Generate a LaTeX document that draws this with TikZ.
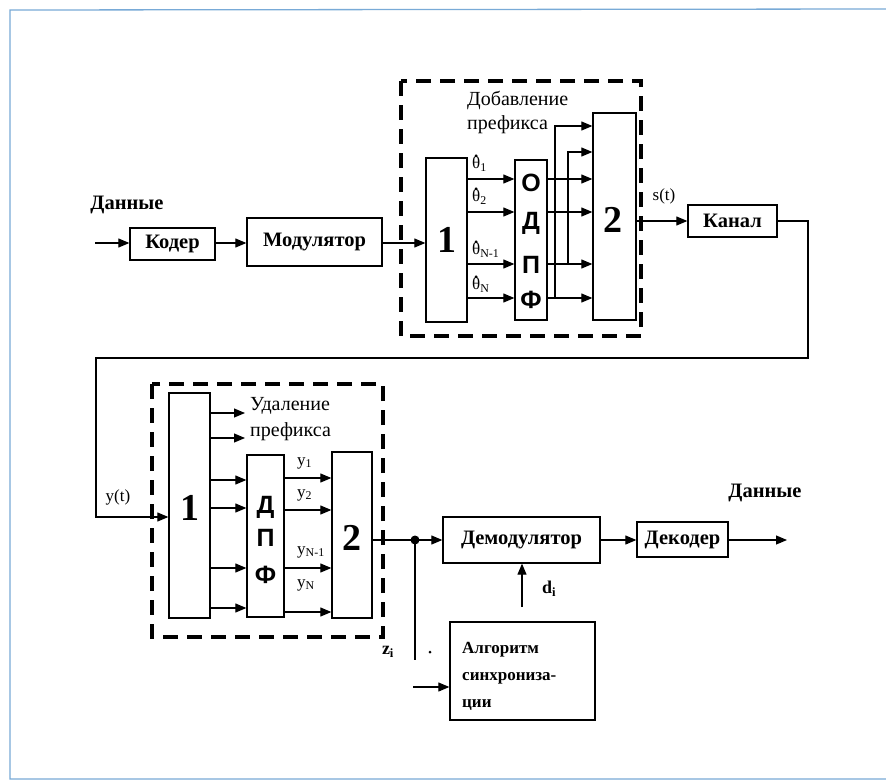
\documentclass[tikz,border=0pt]{standalone}
\usepackage{fontspec}
\setmainfont{Liberation Serif}
\newfontfamily\sansb{Liberation Sans}
\usetikzlibrary{arrows.meta,calc}
\newcommand{\dth}[1]{\ooalign{θ\cr\hidewidth\raisebox{0.66em}{\textbf{.}}\hidewidth\cr}\textsubscript{#1}}
\definecolor{framec}{RGB}{120,170,215}
\begin{document}
\begin{tikzpicture}[x=1pt,y=-1pt,
  box/.style={draw,line width=1.3pt,inner sep=0pt},
  ln/.style={line width=1.1pt},
  arr/.style={line width=1.1pt,-{Triangle[length=11pt,width=9pt]}},
  dashbox/.style={line width=3.5pt,dash pattern=on 15pt off 9pt},
  lbl/.style={font=\fontsize{20.5}{22}\selectfont\bfseries,inner sep=0pt},
  big/.style={font=\fontsize{38}{40}\selectfont\bfseries,inner sep=0pt},
  letter/.style={font=\sansb\fontsize{25}{27}\selectfont\bfseries,inner sep=0pt},
  txt/.style={font=\fontsize{20}{22}\selectfont,inner sep=0pt},
  sm/.style={font=\fontsize{17}{19}\selectfont,inner sep=0pt},
  smb/.style={font=\fontsize{18}{20}\selectfont\bfseries,inner sep=0pt},
  syn/.style={font=\fontsize{17}{19}\selectfont\bfseries,inner sep=0pt,anchor=west}]
\useasboundingbox (0,0) rectangle (886,782);
\fill[white] (0,0) rectangle (886,782);
\draw[framec,line width=1.3pt] (886,9) -- (10,10) -- (10,779) -- (886,779);

% ---- upper row boxes
\node[box,minimum width=85pt,minimum height=32pt,lbl] (koder) at (172.5,244) {Кодер};
\node[box,minimum width=135pt,minimum height=48pt,lbl] (mod) at (314.5,242) {Модулятор};
\node[box,minimum width=41pt,minimum height=164pt] (b1u) at (446.5,240) {};
\node[big] (b1ut) at (447,240) {1};
\node[box,minimum width=32pt,minimum height=160pt] (odpf) at (531,240) {};
\node[letter] (o1) at (531,183) {О};
\node[letter] (o2) at (531,223) {Д};
\node[letter] (o3) at (531,265) {П};
\node[letter] (o4) at (531,300) {Ф};
\node[box,minimum width=43pt,minimum height=207pt] (b2u) at (614.5,216.5) {};
\node[big] (b2ut) at (613,220) {2};
\node[box,minimum width=89pt,minimum height=32pt,lbl] (kanal) at (732.5,221) {Канал};
\draw[dashbox] (401,81) rectangle (641,336);

\node[lbl,anchor=center] (data1) at (127,205) {Данные};
\node[txt,anchor=west] (dob1) at (467,100) {Добавление};
\node[txt,anchor=west] (dob2) at (467,125) {префикса};
\node[sm,anchor=west] (th1) at (472,164) {\dth{1}};
\node[sm,anchor=west] (th2) at (472,197) {\dth{2}};
\node[sm,anchor=west] (th3) at (472,250) {\dth{N-1}};
\node[sm,anchor=west] (th4) at (472,285) {\dth{N}};
\node[sm] (st) at (664,196) {s(t)};

% ---- lower boxes
\node[box,minimum width=41pt,minimum height=225pt] (b1l) at (189.5,505.5) {};
\node[big] (b1lt) at (190,508) {1};
\node[box,minimum width=37pt,minimum height=162pt] (dpf) at (265.5,536) {};
\node[letter] (d1) at (265.5,507) {Д};
\node[letter] (d2) at (265.5,538) {П};
\node[letter] (d3) at (265.5,575) {Ф};
\node[box,minimum width=40pt,minimum height=166pt] (b2l) at (352,535) {};
\node[big] (b2lt) at (352,538) {2};
\draw[dashbox] (152,384) rectangle (383,637);
\node[box,minimum width=157pt,minimum height=46pt,lbl] (demod) at (521.5,540) {Демодулятор};
\node[box,minimum width=91pt,minimum height=35pt,lbl] (dekod) at (682.5,539.5) {Декодер};
\node[box,minimum width=145pt,minimum height=98pt] (sync) at (522.5,671) {};
\node[syn] (sy1) at (462,650) {Алгоритм};
\node[syn] (sy2) at (462,678) {синхрониза-};
\node[syn] (sy3) at (462,705) {ции};

\node[txt,anchor=west] (ud1) at (250,406) {Удаление};
\node[txt,anchor=west] (ud2) at (250,432) {префикса};
\node[sm] (yt) at (118,497) {y(t)};
\node[sm,anchor=west] (y1) at (297,463) {y\textsubscript{1}};
\node[sm,anchor=west] (y2) at (297,495) {y\textsubscript{2}};
\node[sm,anchor=west] (y3) at (297,552) {y\textsubscript{N-1}};
\node[sm,anchor=west] (y4) at (297,585) {y\textsubscript{N}};
\node[lbl] (data2) at (765,493) {Данные};
\node[smb] (dl) at (549,589) {d\textsubscript{i}};
\node[smb] (zl) at (388,652) {z\textsubscript{i}};

% ---- upper connectors
\coordinate (din) at (95,243);
\draw[arr] (din) -- (koder.west |- din);
\draw[arr] (koder.east |- din) -- (mod.west |- din);
\draw[arr] (mod.east |- din) -- (b1u.west |- din);
\foreach \yy in {179,212,264,298}{
  \coordinate (r\yy) at (0,\yy);
  \draw[arr] (b1u.east |- r\yy) -- (odpf.west |- r\yy);
  \draw[arr] (odpf.east |- r\yy) -- (b2u.west |- r\yy);
}
\coordinate (vN) at (555,298);
\coordinate (vNt) at (555,126);
\coordinate (vM) at (568,264);
\coordinate (vMt) at (568,152);
\draw[arr] (vN) -- (vNt) -- (b2u.west |- vNt);
\draw[arr] (vM) -- (vMt) -- (b2u.west |- vMt);
\draw[arr] (b2u.east |- kanal.west) -- (kanal.west);
\coordinate (k1) at (808,358);
\coordinate (k2) at (96,358);
\coordinate (k3) at (96,517);
\draw[arr] (kanal.east) -| (k1) -- (k2) -- (k3) -- (b1l.west |- k3);

% ---- lower connectors
\coordinate (p1) at (245,413);
\coordinate (p2) at (245,438);
\draw[arr] (b1l.east |- p1) -- (p1);
\draw[arr] (b1l.east |- p2) -- (p2);
\foreach \yy in {480,508,568,608}{
  \coordinate (q\yy) at (0,\yy);
  \draw[arr] (b1l.east |- q\yy) -- (dpf.west |- q\yy);
}
\foreach \yy in {478,510,568,612}{
  \coordinate (u\yy) at (0,\yy);
  \draw[arr] (dpf.east |- u\yy) -- (b2l.west |- u\yy);
}
\coordinate (jn) at (415,540);
\draw[ln] (b2l.east |- jn) -- (jn);
\draw[arr] (jn) -- (demod.west |- jn);
\fill (jn) circle (4.5pt);
\draw[arr] (demod.east |- jn) -- (dekod.west |- jn);
\coordinate (dout) at (787,540);
\draw[arr] (dekod.east |- jn) -- (dout);
\coordinate (jd) at (415,660);
\draw[ln] (jn) -- (jd);
\coordinate (zin) at (413,687);
\draw[arr] (zin) -- (sync.west |- zin);
\coordinate (dtail) at (522,607);
\draw[arr] (dtail) -- (demod.south -| dtail);
\fill (430,652) circle (1.5pt);
\end{tikzpicture}
\end{document}
